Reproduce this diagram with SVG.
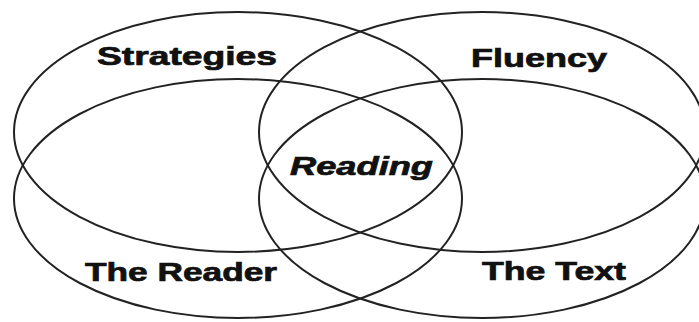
<svg xmlns="http://www.w3.org/2000/svg" width="699" height="322" viewBox="0 0 699 322">
<style>
.e{fill:none;stroke:#222;stroke-width:2}
.t{font-family:"Liberation Sans",Arial,sans-serif;font-weight:bold;font-size:25px;fill:#111;stroke:#111;stroke-width:0.7}
.i{font-style:italic}
</style>
<rect width="699" height="322" fill="#fff"/>
<g id="strategies">
<ellipse class="e" cx="238" cy="132" rx="224" ry="120"/>
<text class="t" x="97" y="65" textLength="180" lengthAdjust="spacingAndGlyphs">Strategies</text>
</g>
<g id="fluency">
<ellipse class="e" cx="482" cy="132" rx="223" ry="120"/>
<text class="t" x="471" y="67" textLength="136" lengthAdjust="spacingAndGlyphs">Fluency</text>
</g>
<g id="reader">
<ellipse class="e" cx="238" cy="198.5" rx="224" ry="119.5"/>
<text class="t" x="85" y="281" textLength="192" lengthAdjust="spacingAndGlyphs">The Reader</text>
</g>
<g id="text">
<ellipse class="e" cx="482" cy="198.5" rx="223" ry="119.5"/>
<text class="t" x="482" y="280" textLength="144" lengthAdjust="spacingAndGlyphs">The Text</text>
</g>
<g id="reading">
<text class="t i" x="290" y="175" textLength="143" lengthAdjust="spacingAndGlyphs">Reading</text>
</g>
</svg>
